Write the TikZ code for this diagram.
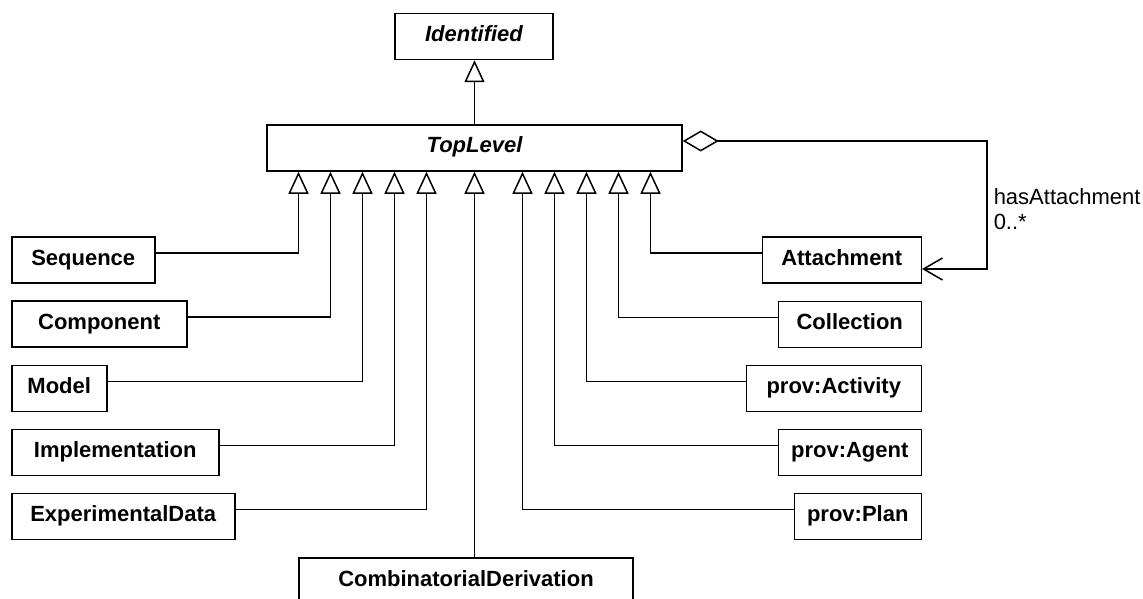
\documentclass[tikz,border=0pt]{standalone}
\usepackage{fontspec}
\setmainfont{Liberation Sans}
\usetikzlibrary{arrows.meta}
\begin{document}
\begin{tikzpicture}[x=1pt,y=-1pt,line width=1.5pt,font=\fontsize{22}{25}\selectfont,
	cls/.style={draw,line width=1.5pt,minimum height=46pt,inner sep=0pt,text height=15pt,text depth=5pt,font=\fontsize{22}{25}\selectfont\bfseries},
	abs/.style={cls,font=\fontsize{22}{25}\selectfont\bfseries\itshape},
	gen/.style={-{Triangle[open,length=22pt,width=20pt]}},
	agg/.style={{Diamond[open,length=36pt,width=21pt]}-{Straight Barb[length=19pt,width=22pt]}}]
				\useasboundingbox (0,0) rectangle (1143,599);
				\node[abs,minimum width=158pt] (ident) at (474,36.5) {Identified};
				\node[abs,minimum width=415pt] (tl) at (474.5,148) {TopLevel};
				% left column
				\node[cls,anchor=west,minimum width=143pt] (seq) at (11,260) {Sequence};
				\node[cls,anchor=west,minimum width=175pt] (comp) at (11,324) {Component};
				\node[cls,anchor=west,minimum width=95pt] (model) at (11,388.5) {Model};
				\node[cls,anchor=west,minimum width=207pt] (impl) at (11,452.5) {Implementation};
				\node[cls,anchor=west,minimum width=223pt] (exp) at (11,516.5) {ExperimentalData};
				% right column
				\node[cls,anchor=east,minimum width=159pt] (att) at (922,260) {Attachment};
				\node[cls,anchor=east,minimum width=143pt] (coll) at (922,324.5) {Collection};
				\node[cls,anchor=east,minimum width=175pt] (act) at (922,388.5) {prov:Activity};
				\node[cls,anchor=east,minimum width=143pt] (agent) at (922,452.5) {prov:Agent};
				\node[cls,anchor=east,minimum width=127pt] (plan) at (922,516.5) {prov:Plan};
				\node[cls,minimum width=334pt] (comb) at (466,581) {CombinatorialDerivation};
				\draw[gen] (tl.north) -- (tl.north |- ident.south);
				\foreach \n/\k in {seq/4,comp/3,model/2,impl/1,exp/0}{
					\draw[gen] ([yshift=7pt]\n.east) -| ([xshift={-48-32*\k}]tl.south);
				}
				\foreach \n/\k in {att/4,coll/3,act/2,agent/1,plan/0}{
					\draw[gen] ([yshift=7pt]\n.west) -| ([xshift={48+32*\k}]tl.south);
				}
				\draw[gen] (comb.north -| tl.south) -- (tl.south);
				\coordinate (bend) at (987,141);
				\draw[agg] ([yshift=7pt]tl.east) -- (bend) |- ([yshift=-9pt]att.east);
				\node[anchor=north west,align=left,inner sep=0pt] (role) at (993,188) {hasAttachment\\0..*};
			\end{tikzpicture}
\end{document}
